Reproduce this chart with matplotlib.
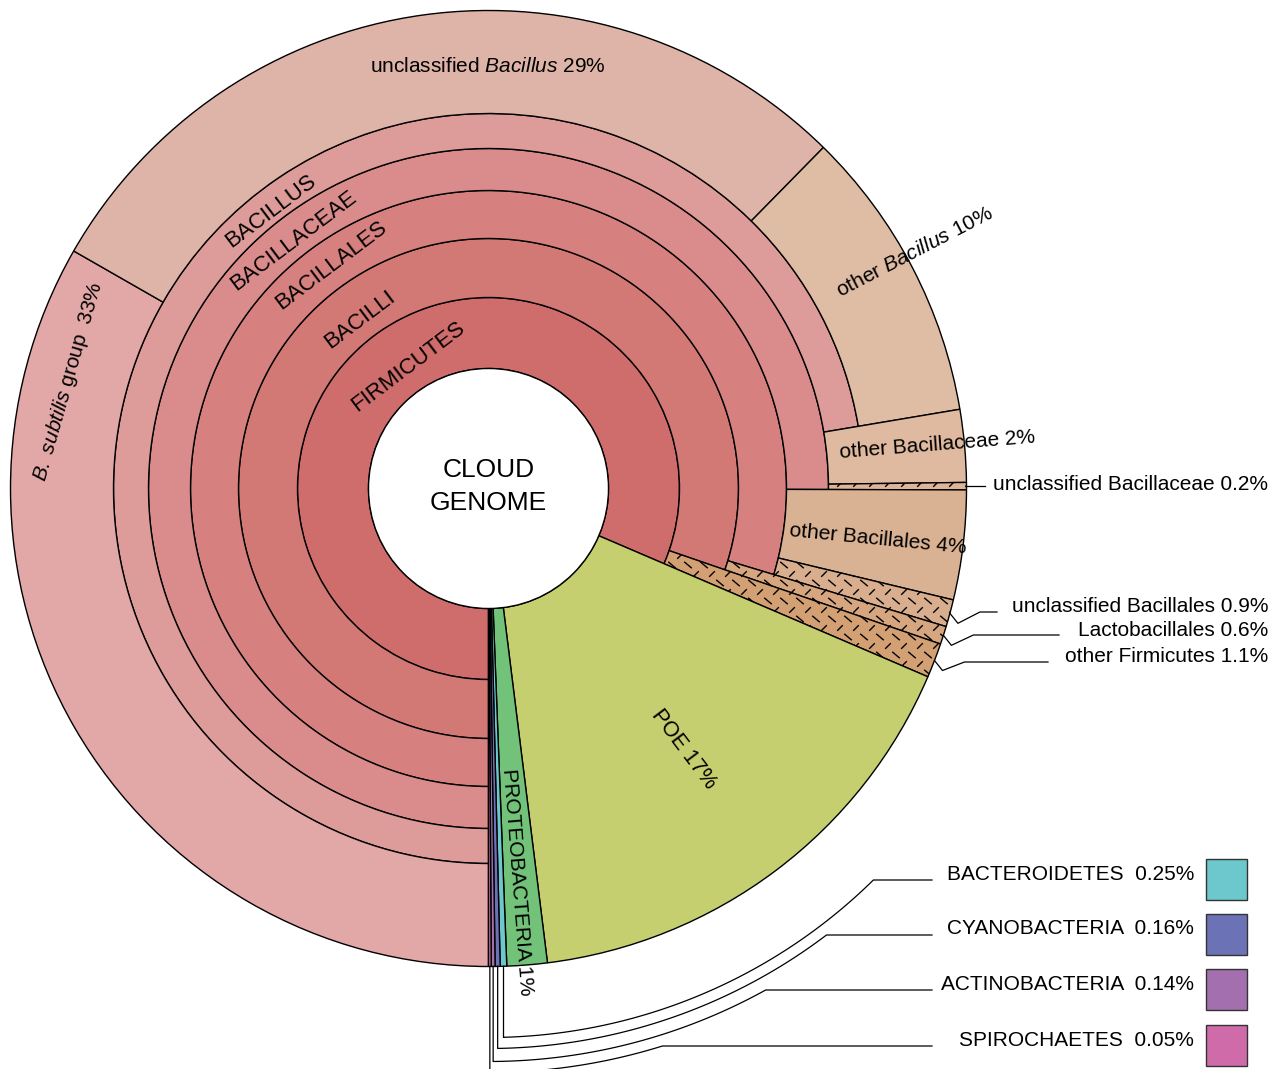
import numpy as np
import matplotlib.pyplot as plt
from matplotlib.patches import Wedge, Circle, Rectangle
from matplotlib.collections import LineCollection

plt.rcParams['font.family'] = ['Liberation Sans', 'DejaVu Sans']
plt.rcParams['mathtext.fontset'] = 'custom'
plt.rcParams['mathtext.rm'] = 'Liberation Sans'
plt.rcParams['mathtext.it'] = 'Liberation Sans:italic'

# outermost categories, clockwise from 6 o'clock
leaf_names = ['B. subtilis group', 'unclassified Bacillus', 'other Bacillus',
              'other Bacillaceae', 'unclassified Bacillaceae', 'other Bacillales',
              'unclassified Bacillales', 'Lactobacillales', 'other Firmicutes',
              'POE', 'PROTEOBACTERIA', 'BACTEROIDETES', 'CYANOBACTERIA',
              'ACTINOBACTERIA', 'SPIROCHAETES']
leaf_pct = ['33%', '29%', '10%', '2%', '0.2%', '4%', '0.9%', '0.6%', '1.1%',
            '17%', '1%', '0.25%', '0.16%', '0.14%', '0.05%']
# share of the circle as drawn (percent)
leaf_share = [33.3, 29.1, 10.0, 2.45, 0.25, 3.7, 0.92, 0.61, 1.17,
              16.6, 1.36, 0.22, 0.17, 0.13, 0.09]
# ring where each leaf starts (0 = innermost)
leaf_level = [5, 5, 5, 4, 4, 3, 3, 2, 1, 0, 0, 0, 0, 0, 0]
leaf_colors = ['#e2a8a7', '#dfb4a8', '#dfbca4', '#dfbaa0', '#dcb59a', '#d9b193',
               '#d9ae8e', '#d6a680', '#d3a074', '#c5cf6f', '#72c27a', '#6cc8cc',
               '#6b72b6', '#a46faf', '#d06ba9']
leaf_hatched = [False, False, False, False, True, False, True, True, True,
                False, False, False, False, False, False]

# inner taxa, one ring each, all starting at the first leaf
taxa = ['FIRMICUTES', 'BACILLI', 'BACILLALES', 'BACILLACEAE', 'BACILLUS']
taxa_last_leaf = [8, 7, 6, 4, 2]
taxa_colors = ['#cf6c6c', '#d27875', '#d6817f', '#d98c8b', '#dd9b9a']

ring_edges = [120, 191, 250, 298, 340, 375, 478]

W, H = 1283, 1069
CX, CY = 488.5, 488.5


def px(x, y):
    # picture pixel -> data coords (chart centre at origin)
    return x - CX, CY - y


def polar(r, a):
    # a: degrees clockwise from 6 o'clock
    phi = np.radians(-90 - a)
    return r * np.cos(phi), r * np.sin(phi)


fig = plt.figure(figsize=(W / 100, H / 100), dpi=100)
ax = fig.add_axes([0, 0, 1, 1])
ax.set_xlim(-CX, W - CX)
ax.set_ylim(-(H - CY), CY)
ax.set_aspect('equal')
ax.axis('off')

share = np.array(leaf_share) / np.sum(leaf_share) * 360
ends = np.cumsum(share)
starts = ends - share
R_OUT = ring_edges[-1]


def add_wedge(a0, a1, r0, r1, color):
    w = Wedge((0, 0), r1, -90 - a1, -90 - a0, width=r1 - r0,
              facecolor=color, edgecolor='black', linewidth=1.0)
    ax.add_patch(w)
    return w


def dashes(patch, a0, a1, r0, r1):
    # rows of short dashes, alternating direction row by row, clipped to the slice
    step, row = 16.0, 9.0
    segs = []
    for j, y in enumerate(np.arange(-(H - CY), CY, row)):
        off = step / 2 if j % 2 else 0.0
        for x in np.arange(-CX + off, W - CX, step):
            r = np.hypot(x, y)
            a = (-90 - np.degrees(np.arctan2(y, x))) % 360
            if r < r0 - 10 or r > r1 + 10 or a < a0 - 3 or a > a1 + 3:
                continue
            if j % 2:
                segs.append([(x - 2.8, y - 2.8), (x + 2.8, y + 2.8)])
            else:
                segs.append([(x - 3.8, y + 3.2), (x + 3.8, y - 3.2)])
    lc = LineCollection(segs, colors='black', linewidths=1.0)
    lc.set_clip_path(patch)
    ax.add_collection(lc)


for k, name in enumerate(taxa):
    add_wedge(0, ends[taxa_last_leaf[k]], ring_edges[k], ring_edges[k + 1], taxa_colors[k])

for i in range(len(leaf_names)):
    w = add_wedge(starts[i], ends[i], ring_edges[leaf_level[i]], R_OUT, leaf_colors[i])
    if leaf_hatched[i]:
        dashes(w, starts[i], ends[i], ring_edges[leaf_level[i]], R_OUT)

ax.add_patch(Circle((0, 0), ring_edges[0], facecolor='white', edgecolor='black', linewidth=1.0))
ax.text(0, 2, 'CLOUD\nGENOME', ha='center', va='center', fontsize=19, linespacing=1.45)

# ring labels
taxa_label_pos = [(408, 367), (360, 320), (331, 265), (294, 241), (271, 211)]
for name, (x, y) in zip(taxa, taxa_label_pos):
    ax.text(*px(x, y), name, fontsize=16, rotation=37, ha='center', va='center',
            rotation_mode='anchor')

# labels inside the outer slices
ax.text(*px(68, 381), r'$\mathit{B.\ subtilis}$ group  ' + leaf_pct[0], fontsize=15,
        rotation=74, ha='center', va='center', rotation_mode='anchor')
ax.text(*px(488, 66), r'unclassified $\mathit{Bacillus}$ ' + leaf_pct[1], fontsize=15,
        ha='center', va='center')
ax.text(*px(838, 292), r'other $\mathit{Bacillus}$ ' + leaf_pct[2], fontsize=15,
        rotation=27.5, ha='left', va='center', rotation_mode='anchor')
ax.text(*px(840, 453), leaf_names[3] + ' ' + leaf_pct[3], fontsize=15,
        rotation=4.5, ha='left', va='center', rotation_mode='anchor')
ax.text(*px(790, 531), leaf_names[5] + ' ' + leaf_pct[5], fontsize=15,
        rotation=-5.6, ha='left', va='center', rotation_mode='anchor')
ax.text(*px(684, 749), leaf_names[9] + ' ' + leaf_pct[9], fontsize=15.5,
        rotation=-53, ha='center', va='center', rotation_mode='anchor')
ax.text(*px(517, 882), leaf_names[10] + ' ' + leaf_pct[10], fontsize=15,
        rotation=-85.6, ha='center', va='center', rotation_mode='anchor')

# small Firmicutes slices: labels outside with kinked leaders
mid = (starts + ends) / 2
x0, y0 = polar(R_OUT, mid[4])
ax.plot([x0, px(985, 0)[0]], [y0, y0], color='black', lw=0.9)
ax.text(*px(993, 485), leaf_names[4] + ' ' + leaf_pct[4], fontsize=15, ha='left', va='center')

side_idx = [6, 7, 8]
side_text_y = [606, 630, 656]
side_line_y = [612, 635, 662]
side_line_end = [997, 1059, 1048]
for i, ty, ly, lx in zip(side_idx, side_text_y, side_line_y, side_line_end):
    x0, y0 = polar(R_OUT, mid[i])
    ly_d = px(0, ly)[1]
    ax.plot([x0, x0 + 8, x0 + 30, px(lx, 0)[0]], [y0, y0 - 10, ly_d, ly_d],
            color='black', lw=0.9)
    ax.text(*px(1268, ty), leaf_names[i] + ' ' + leaf_pct[i], fontsize=15,
            ha='right', va='center')

# minor phyla: legend boxes on the right, leaders hugging the circle
legend_idx = [11, 12, 13, 14]
legend_y = [880, 935, 990, 1046]
leader_r = [549, 560, 573, 584]
for i, ly, rr in zip(legend_idx, legend_y, leader_r):
    xm, ym = polar(R_OUT, mid[i])
    yb = -np.sqrt(rr ** 2 - xm ** 2)
    ly_d = px(0, ly)[1]
    xe = np.sqrt(rr ** 2 - ly_d ** 2)
    t = np.linspace(np.arctan2(yb, xm), np.arctan2(ly_d, xe), 80)
    xs = np.concatenate([[xm, xm], rr * np.cos(t), [px(932, 0)[0]]])
    ys = np.concatenate([[ym, yb], rr * np.sin(t), [ly_d]])
    ax.plot(xs, ys, color='black', lw=0.9, clip_on=False)
    ax.text(*px(1194, ly - 6), leaf_names[i] + '  ' + leaf_pct[i], fontsize=15,
            ha='right', va='center')
    bx, by = px(1206, ly + 20)
    ax.add_patch(Rectangle((bx, by), 41, 41, facecolor=leaf_colors[i],
                           edgecolor='#333333', linewidth=1.0))

plt.savefig('out.png', dpi=100)
